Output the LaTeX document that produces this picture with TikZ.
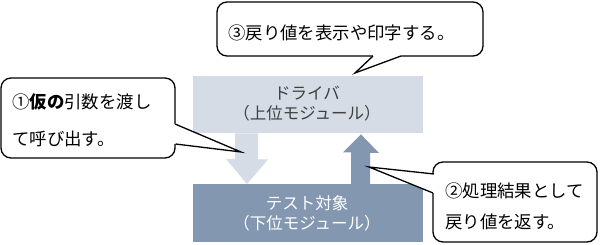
\documentclass[tikz,border=0pt]{standalone}
\usepackage{fontspec}
\setmainfont{Noto Sans CJK JP}
\usetikzlibrary{calc}
\definecolor{lightbg}{HTML}{D6DCE5}
\definecolor{darkbg}{HTML}{8497B0}
\definecolor{drvtext}{HTML}{404040}
\tikzset{
  callout/.style={draw=black, line width=1.3pt, fill=white, rounded corners=10pt},
  ptrfill/.style={fill=white, draw=none},
  ptrline/.style={draw=black, line width=1.3pt, line join=miter},
  ctext/.style={anchor=base west, inner sep=0pt, font=\fontsize{17.4}{19}\selectfont},
  btext/.style={anchor=base, inner sep=0pt, font=\fontsize{16.5}{18}\selectfont},
  modbox/.style={draw=none, minimum width=230pt, inner sep=0pt, anchor=north west},
}
\begin{document}
\begin{tikzpicture}[x=1pt, y=-1pt]
\useasboundingbox (0,0) rectangle (600,245);
% module boxes
\node[modbox, fill=lightbg, minimum height=57pt] (drv) at (193,76) {};
\node[modbox, fill=darkbg, minimum height=58pt] (tst) at (193,184) {};
% block arrows
\fill[lightbg] ($(drv.south west)+(42,0)$) -- ++(23,0) -- ++(0,26) -- ++(10,0)
  -- ($(tst.north west)+(54,0)$) coordinate (dtip) -- ++(-21,-25) -- ++(9,0) -- cycle;
\fill[darkbg] ($(tst.north west)+(158,0)$) -- ++(19,0) -- ++(0,-31) -- ++(9,0)
  -- ($(drv.south west)+(168,1)$) coordinate (utip) -- ++(-18,18) -- ++(8,0) -- cycle;
% texts in boxes
\node[btext, text=drvtext] (d1) at (307,99.5) {ドライバ};
\node[btext, text=drvtext] (d2) at (307,120) {（上位モジュール）};
\node[btext, text=white] (t1) at (307,209.5) {テスト対象};
\node[btext, text=white] (t2) at (307,230) {（下位モジュール）};
% callout 1
\draw[callout] (1,78) rectangle (175,158);
\coordinate (c1a) at (175,124);
\coordinate (c1b) at (175.5,144);
\coordinate (c1tip) at (241,152);
\fill[ptrfill] (c1a) -- (c1tip) -- (c1b) -- (170,144) -- (170,124) -- cycle;
\draw[ptrline] (c1a) -- (c1tip) -- (c1b);
\node[ctext] (n1a) at (12,108.5) {①\textbf{仮の}引数を渡し};
\node[ctext] (n1b) at (12,145.5) {て呼び出す。};
% callout 2
\draw[callout] (433,162) rectangle (597,242);
\coordinate (c2a) at (434,174);
\coordinate (c2b) at (433,193);
\coordinate (c2tip) at (369,167);
\fill[ptrfill] (c2a) -- (c2tip) -- (c2b) -- (440,193) -- (440,174) -- cycle;
\draw[ptrline] (c2a) -- (c2tip) -- (c2b);
\node[ctext] (n2a) at (445,197.5) {②処理結果として};
\node[ctext] (n2b) at (445,228.5) {戻り値を返す。};
% callout 3
\draw[callout] (217,2) rectangle (483,56);
\coordinate (c3a) at (373,56);
\coordinate (c3b) at (401,56);
\coordinate (c3tip) at (355,73);
\fill[ptrfill] (c3a) -- (c3tip) -- (c3b) -- (401,50) -- (373,50) -- cycle;
\draw[ptrline] (c3a) -- (c3tip) -- (c3b);
\node[ctext] (n3) at (228,39.5) {③戻り値を表示や印字する。};
\end{tikzpicture}
\end{document}
